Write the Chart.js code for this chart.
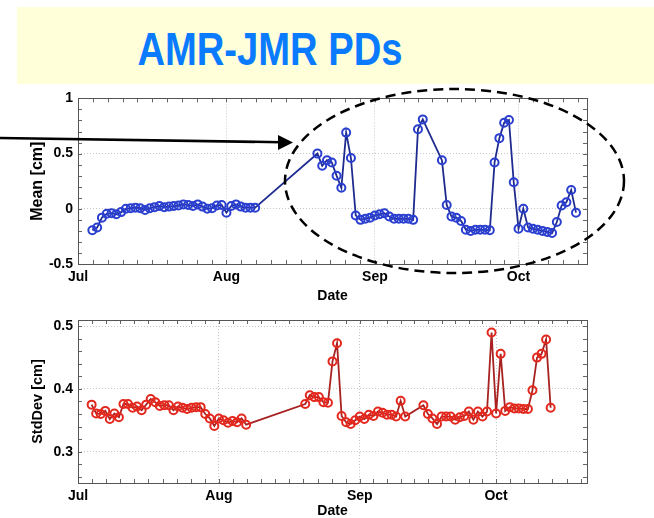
<!DOCTYPE html>
<html>
<head>
<meta charset="utf-8">
<script src="https://cdn.jsdelivr.net/npm/chart.js@4.4.1/dist/chart.umd.min.js"></script>
<style>
  html, body { margin: 0; padding: 0; background: #fff; width: 654px; height: 518px; overflow: hidden; }
  #titlebox { position: absolute; left: 17px; top: 7px; width: 637px; height: 77px; background: #FFFFD9; }
  #title { position: absolute; left: 270px; top: 26px; font: bold 46px "Liberation Sans", Arial, sans-serif; line-height: 46px;
           color: #0A7BFF; white-space: nowrap; transform: translateX(-50%) scaleX(0.83); transform-origin: center; }
  .wrap { position: absolute; left: 0; width: 654px; }
  #overlay { position: absolute; left: 0; top: 0; pointer-events: none; }
</style>
</head>
<body>
<div id="titlebox"></div>
<div id="title">AMR-JMR PDs</div>
<div class="wrap" style="top:85px;height:220px"><canvas id="c1" width="654" height="220"></canvas></div>
<div class="wrap" style="top:305px;height:221px"><canvas id="c2" width="654" height="221"></canvas></div>
<svg id="overlay" width="654" height="518">
  <line x1="0" y1="138" x2="281" y2="142.2" stroke="#000" stroke-width="2.6"/>
  <polygon points="278,135 293,142.5 278,150" fill="#000"/>
  <ellipse cx="454.5" cy="181" rx="169.5" ry="92" fill="none" stroke="#000" stroke-width="2.5" stroke-dasharray="10 6"/>
</svg>
<script>
// ---- data (days since Jul 1) ----
const days = [
  3,4,5,6,7,8,9,10,11,12,13,14,15,16,17,18,19,20,21,22,23,24,25,26,27,28,29,30,31,32,33,34,35,36,37,
  50,51,52,53,54,55,56,57,58,59,60,61,62,63,64,65,66,67,68,69,70,71,72,
  76,77,78,79,80,81,82,83,84,85,86,87,88,89,90,91,92,93,94,95,96,97,98,99,100,101,102,103,104
];
const meanCm = [
  -0.195,-0.170,-0.080,-0.045,-0.040,-0.050,-0.030,0.000,0.005,0.010,0.005,-0.010,0.005,0.015,0.025,0.015,0.020,0.025,0.030,0.040,0.035,0.025,0.040,0.020,0.000,0.005,0.030,0.035,-0.035,0.025,0.040,0.020,0.010,0.010,0.010,
  0.50,0.39,0.44,0.42,0.30,0.19,0.69,0.46,-0.06,-0.10,-0.09,-0.08,-0.06,-0.05,-0.04,-0.07,-0.09,-0.09,-0.09,-0.09,-0.10,0.72,0.81,
  0.44,0.035,-0.07,-0.08,-0.11,-0.19,-0.20,-0.19,-0.19,-0.19,-0.195,0.42,0.64,0.78,0.805,0.24,-0.18,0.00,-0.17,-0.18,-0.19,-0.20,-0.21,-0.22,-0.12,0.03,0.06,0.17,-0.035
];
const stdCm = [
  0.375,0.361,0.360,0.365,0.352,0.361,0.355,0.376,0.376,0.370,0.372,0.366,0.375,0.384,0.379,0.373,0.374,0.374,0.366,0.372,0.370,0.368,0.370,0.371,0.371,0.360,0.353,0.341,0.353,0.350,0.346,0.349,0.347,0.353,0.343,
  0.376,0.390,0.387,0.387,0.379,0.378,0.444,0.473,0.357,0.347,0.344,0.350,0.356,0.352,0.359,0.357,0.364,0.362,0.359,0.359,0.356,0.381,0.356,
  0.374,0.360,0.353,0.344,0.356,0.356,0.356,0.351,0.355,0.357,0.364,0.351,0.364,0.356,0.364,0.490,0.361,0.456,0.365,0.371,0.369,0.369,0.368,0.368,0.398,0.450,0.456,0.479,0.370
];
const monthTicks = [0, 31, 62, 92];
const monthLabels = ['Jul', 'Aug', 'Sep', 'Oct'];
const meanTicks = [-0.5, 0, 0.5, 1];
const meanTickLabels = ['-0.5', '0', '0.5', '1'];
const stdTicks = [0.3, 0.4, 0.5];
const stdTickLabels = ['0.3', '0.4', '0.5'];

const FONT = '"Liberation Sans", Arial, Helvetica, sans-serif';

function minorX(max) {
  const out = [];
  const bounds = monthTicks.concat([123]);
  for (let i = 0; i < bounds.length - 1; i++) {
    const step = (bounds[i + 1] - bounds[i]) / 10;
    for (let k = 0; k < 10; k++) {
      const v = bounds[i] + k * step;
      if (v <= max + 1e-6) out.push(v);
    }
  }
  return out;
}
function minorY(min, max, step) {
  const out = [];
  const start = Math.ceil(min / step - 1e-6) * step;
  for (let v = start; v <= max + 1e-9; v += step) out.push(v);
  return out;
}

const framePlugin = {
  id: 'frame',
  beforeDatasetsDraw(chart, args, opts) {
    const { ctx, chartArea: a, scales } = chart;
    ctx.save();
    ctx.strokeStyle = '#666';
    ctx.lineWidth = 1;
    const L = 4;
    ctx.beginPath();
    minorX(scales.x.max).forEach(v => {
      const px = Math.round(scales.x.getPixelForValue(v)) + 0.5;
      ctx.moveTo(px, a.top); ctx.lineTo(px, a.top + L);
      ctx.moveTo(px, a.bottom); ctx.lineTo(px, a.bottom - L);
    });
    minorY(scales.y.min, scales.y.max, opts.yStep).forEach(v => {
      const py = Math.round(scales.y.getPixelForValue(v)) + 0.5;
      ctx.moveTo(a.left, py); ctx.lineTo(a.left + L, py);
      ctx.moveTo(a.right, py); ctx.lineTo(a.right - L, py);
    });
    ctx.stroke();
    ctx.strokeStyle = '#555';
    ctx.strokeRect(Math.round(a.left) + 0.5, Math.round(a.top) + 0.5, Math.round(a.right - a.left), Math.round(a.bottom - a.top));
    ctx.restore();
  }
};

function makeChart(id, values, cfg) {
  const pts = days.map((d, i) => ({ x: d, y: values[i] }));
  return new Chart(document.getElementById(id), {
    type: 'line',
    data: {
      datasets: [{
        data: pts,
        borderColor: cfg.lineColor,
        borderWidth: 1.8,
        pointBorderColor: cfg.pointColor,
        pointBackgroundColor: 'rgba(255,255,255,0)',
        pointRadius: 4,
        pointBorderWidth: 2,
        tension: 0,
        fill: false
      }]
    },
    options: {
      responsive: false,
      animation: false,
      devicePixelRatio: 1,
      layout: { padding: { top: cfg.padTop, right: 67, left: 0, bottom: 0 } },
      plugins: { legend: { display: false }, tooltip: { enabled: false }, frame: { yStep: cfg.yStep } },
      scales: {
        x: {
          type: 'linear', min: 0, max: cfg.xMax,
          afterBuildTicks: s => { s.ticks = monthTicks.map(v => ({ value: v })); },
          afterFit: s => { s.height = cfg.xHeight; },
          ticks: {
            callback: v => monthLabels[monthTicks.indexOf(v)] || '',
            font: { family: FONT, size: 14, weight: 'bold' }, color: '#000', padding: 5, maxRotation: 0
          },
          grid: { color: 'rgba(0,0,0,0.22)', drawTicks: false },
          border: { display: false, dash: [1, 2] },
          title: { display: true, text: 'Date', font: { family: FONT, size: 14, weight: 'bold' }, color: '#000', padding: { top: 0, bottom: cfg.dateBottom } }
        },
        y: {
          min: cfg.yMin, max: cfg.yMax,
          afterBuildTicks: s => { s.ticks = cfg.yTicks.map(v => ({ value: v })); },
          afterFit: s => { s.width = 78; },
          ticks: {
            callback: v => { const i = cfg.yTicks.findIndex(t => Math.abs(t - v) < 1e-9); return i >= 0 ? cfg.yLabels[i] : ''; },
            font: { family: FONT, size: 14, weight: 'bold' }, color: '#000', padding: 5
          },
          grid: { color: 'rgba(0,0,0,0.22)', drawTicks: false },
          border: { display: false, dash: [1, 2] },
          title: { display: true, text: cfg.yTitle, font: { family: FONT, size: cfg.yTitleSize, weight: 'bold' }, color: '#000', padding: { top: cfg.yTitlePad, bottom: 0 } }
        }
      }
    },
    plugins: [framePlugin]
  });
}

makeChart('c1', meanCm, {
  lineColor: '#1f2b8f', pointColor: '#2a3fd0', padTop: 9, xMax: 106.3, xHeight: 41, dateBottom: 0,
  yMin: -0.5, yMax: 1, yTicks: meanTicks, yLabels: meanTickLabels, yStep: 0.1, yTitle: 'Mean [cm]', yTitleSize: 16, yTitlePad: 28
});
makeChart('c2', stdCm, {
  lineColor: '#a82222', pointColor: '#e3281e', padTop: 15, xMax: 112, xHeight: 43, dateBottom: 6,
  yMin: 0.25, yMax: 0.51, yTicks: stdTicks, yLabels: stdTickLabels, yStep: 0.02, yTitle: 'StdDev [cm]', yTitleSize: 14.5, yTitlePad: 29
});
</script>
</body>
</html>
